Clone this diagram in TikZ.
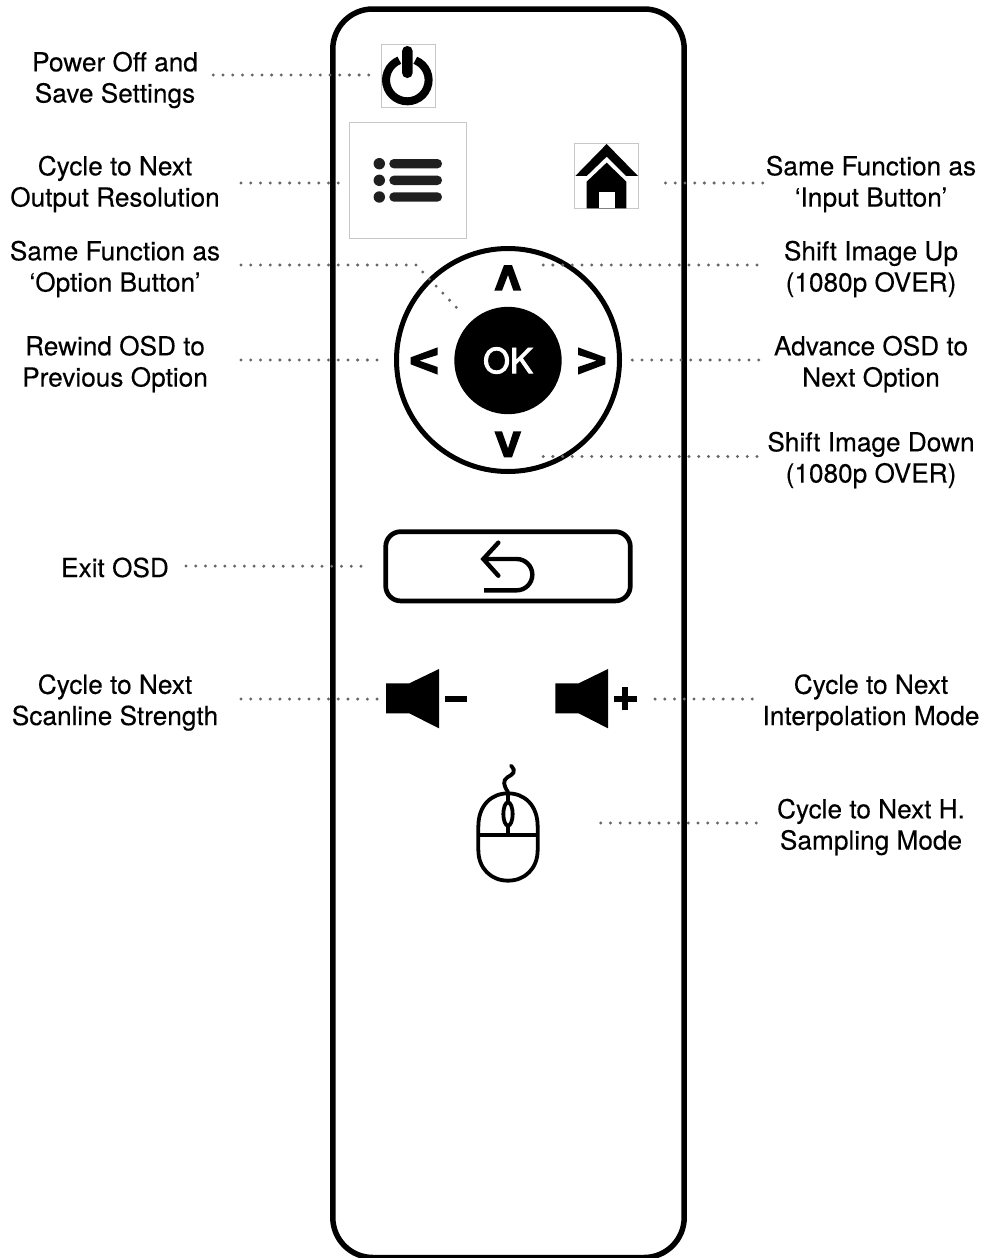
\documentclass[tikz,border=0pt]{standalone}
\usepackage{fontspec}
\setmainfont[FakeBold=0.2]{TeX Gyre Heros}
\newfontfamily\okfont[FakeBold=2.5]{TeX Gyre Heros}
\tikzset{
  lbl/.style={inner sep=0pt,align=center,font=\fontsize{26.2pt}{31.2pt}\selectfont,text=black},
  leader/.style={draw=black!60,line width=3.3pt,line cap=round,dash pattern=on 0pt off 9.72pt},
  thinbox/.style={draw=black!22,line width=1pt,fill=white,inner sep=0pt,rectangle},
}
\begin{document}
\begin{tikzpicture}[x=1pt,y=-1pt]
\useasboundingbox (0,0) rectangle (984,1258);
\fill[white] (0,0) rectangle (984,1258);
% body
\node[draw=black,line width=5.5pt,rounded corners=40pt,inner sep=0pt,minimum width=351.4pt,minimum height=1248.5pt] (body) at (508.5,633.25) {};
% labels
\node[lbl] (lpower) at (115,80) {Power Off and\\Save Settings};
\node[lbl] (lres) at (115,184) {Cycle to Next\\Output Resolution};
\node[lbl] (lopt) at (115,269) {Same Function as\\‘Option Button’};
\node[lbl] (lrew) at (115,364) {Rewind OSD to\\Previous Option};
\node[lbl] (lexit) at (115,567.5) {Exit OSD};
\node[lbl] (lscan) at (115,702.5) {Cycle to Next\\Scanline Strength};
\node[lbl] (linput) at (871,184) {Same Function as\\‘Input Button’};
\node[lbl] (lup) at (871,269) {Shift Image Up\\(1080p OVER)};
\node[lbl] (ladv) at (871,364) {Advance OSD to\\Next Option};
\node[lbl] (ldown) at (871,460) {Shift Image Down\\(1080p OVER)};
\node[lbl] (linterp) at (871,702.5) {Cycle to Next\\Interpolation Mode};
\node[lbl] (lsamp) at (871,827) {Cycle to Next H.\\Sampling Mode};
% power
\node[thinbox,minimum width=54.4pt,minimum height=63.4pt] (pw) at (408.5,76) {};
\draw[black,line width=8pt] (415.3,60.25) arc[start angle=-68,end angle=248,radius=21.3];
\fill[black,rounded corners=5.2pt] (402,46) rectangle (412.7,78);
% menu
\node[thinbox,minimum width=117pt,minimum height=116.4pt] (menu) at (407.8,180.5) {};
\foreach \yy in {163.7,180.3,197}{
  \fill[black!88] (379.3,\yy) circle[radius=5.7];
  \fill[black!88,rounded corners=4.6pt] (389.3,\yy-4.7) rectangle (442,\yy+4.7);
}
% home
\node[thinbox,minimum width=64.4pt,minimum height=64.6pt] (home) at (606.5,176) {};
\begin{scope}[shift={(330,0)},scale=1/3]
\fill[black] (830,432)--(924,528)--(888,528)--(830,470)--(770,528)--(736,528)--cycle;
\fill[black] (830,488)--(889,545)--(889,625)--(770,625)--(770,545)--cycle;
\fill[white] (806,577) rectangle (854,625);
\end{scope}
% dpad
\node[circle,draw=black,line width=5pt,fill=white,inner sep=0pt,minimum size=223pt] (pad) at (508,360) {};
\begin{scope}[shift={(380,240)},scale=1/3]
\fill[black] (343,152)--(372,75)--(396,75)--(424,152)--(400,152)--(384,105)--(366,152)--cycle;
\fill[black] (173,322)--(173,345)--(118,362)--(173,381)--(173,404)--(92,373)--(92,352)--cycle;
\fill[black] (594,322)--(676,352)--(676,373)--(594,404)--(594,381)--(650,362)--(594,345)--cycle;
\fill[black] (343,574)--(366,574)--(384,625)--(400,574)--(424,574)--(396,652)--(372,652)--cycle;
\end{scope}
\node[circle,fill=black,text=white,inner sep=0pt,minimum size=107.4pt,font=\okfont\fontsize{34.5pt}{36pt}\selectfont] (ok) at (508,360.5) {OK};
% back
\node[draw=black,line width=4.7pt,rounded corners=15pt,inner sep=0pt,minimum width=244.6pt,minimum height=69.3pt] (back) at (508,566.3) {};
\begin{scope}[shift={(370,520)},scale=1/3]
\draw[black,line width=4.4pt,line cap=round,line join=miter] (385,68)--(340,117)--(385,167);
\draw[black,line width=4.4pt] (340,117)--(440,117) arc[start angle=-90,end angle=90,radius=47]--(342,211);
\end{scope}
% volume
\begin{scope}[shift={(370,520)},scale=1/3]
\fill[black] (48,490)--(118,490)--(207,447)--(207,625)--(118,580)--(48,580)--cycle;
\coordinate (volm) at (48,535);
\fill[black] (225,527) rectangle (292,545);
\fill[black] (556,490)--(626,490)--(714,447)--(714,625)--(626,580)--(556,580)--cycle;
\coordinate (volp) at (800,535);
\fill[black] (732,527) rectangle (800,545);
\fill[black] (757,502) rectangle (775,570);
\end{scope}
% mouse
\begin{scope}[shift={(450,750)},scale=1/3]
\draw[black,line width=3.8pt] (85,230) .. controls (85,165) and (125,130) .. (174,130) .. controls (223,130) and (263,165) .. (263,230) -- (263,300) .. controls (263,355) and (225,392) .. (174,392) .. controls (123,392) and (85,355) .. (85,300) -- cycle;
\draw[black,line width=3.8pt] (85,254)--(263,254);
\draw[black,line width=3.8pt] (174,130)--(174,157) (174,227)--(174,254);
\draw[black,line width=3.8pt] (174,192) ellipse[x radius=14,y radius=35];
\draw[black,line width=3.8pt,line cap=round] (174,126) .. controls (160,105) and (158,92) .. (172,82) .. controls (190,72) and (200,65) .. (183,47);
\end{scope}
\coordinate (mouse) at (508,823);
% leaders
\draw[leader] ([shift={(98.3,-5)}]lpower.center) -- ([shift={(-11,-1)}]pw.west);
\draw[leader] ([shift={(126,-1)}]lres.center) -- ([shift={(-9.3,2.5)}]menu.west);
\draw[leader] ([shift={(-108.3,-1)}]linput.center) -- ([shift={(26.3,7)}]home.east);
\draw[leader] ([shift={(126,-4)}]lopt.center) -- ++(175,0) -- ([shift={(-51,-52.5)}]ok.center);
\draw[leader] ([shift={(-114,-4)}]lup.center) -- ([shift={(35,-95)}]pad.center);
\draw[leader] ([shift={(126,-4)}]lrew.center) -- ([shift={(-128,0)}]pad.center);
\draw[leader] ([shift={(-112.3,-4)}]ladv.center) -- ([shift={(124,0)}]pad.center);
\draw[leader] ([shift={(-114,-3.5)}]ldown.center) -- ([shift={(35,96.5)}]pad.center);
\draw[leader] ([shift={(71,-1.5)}]lexit.center) -- ([shift={(-21,0)}]back.west);
\draw[leader] ([shift={(126,-3.5)}]lscan.center) -- ([shift={(-8,0.7)}]volm);
\draw[leader] ([shift={(-118.7,-3.5)}]linterp.center) -- ([shift={(17.8,0.7)}]volp);
\draw[leader] ([shift={(-114.7,-4)}]lsamp.center) -- ([shift={(92,0)}]mouse);
\end{tikzpicture}
\end{document}
